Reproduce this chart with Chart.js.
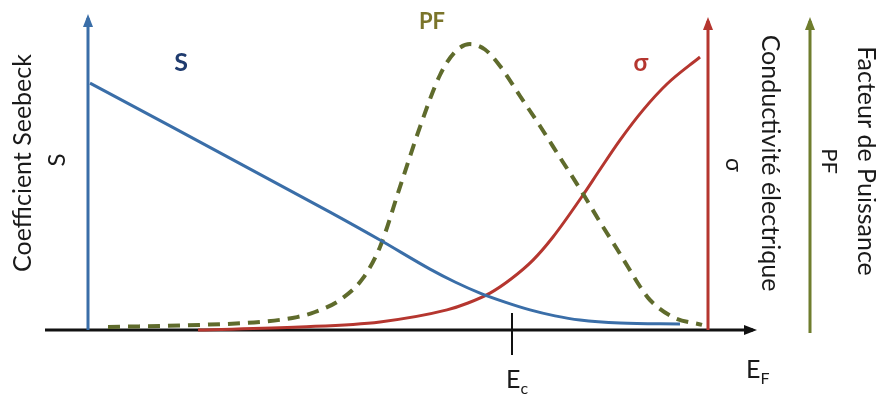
<!DOCTYPE html>
<html>
<head>
<meta charset="utf-8">
<script src="https://cdn.jsdelivr.net/npm/chart.js@4.4.1/dist/chart.umd.min.js"></script>
<style>
  body { margin: 0; background: #fff; }
  #wrap { width: 876px; height: 394px; }
</style>
</head>
<body>
<div id="wrap"><canvas id="chart" width="876" height="394"></canvas></div>
<script>
// data (x = Fermi energy, y = arbitrary units)
const sEnergy = [0.2, 24.2, 29.2, 34.2, 36.7, 39.2, 41.7, 44.2, 46.7, 49.2, 53.2, 59.2];
const sValues = [82.3, 39.3, 30, 20.3, 16, 12.3, 9.3, 6.7, 4.7, 3.3, 2.3, 2];

const pfEnergy = [2.0, 11.2, 17.2, 20.9, 22.7, 25.2, 27.5, 29.2, 31.2, 33.2, 35.2, 36.7, 38.2, 39.7,
  41.2, 43.2, 45.2, 47.2, 49.4, 51.2, 52.9, 54.0, 55.2, 56.2, 58.5, 61.4];
const pfValues = [1, 1.7, 2.7, 4.3, 6, 10, 17.3, 27.7, 47.7, 67.7, 85, 92.7, 95.3, 93.5,
  88, 78, 68, 57.5, 46, 36, 27, 21, 14.5, 10, 4.3, 1.7];

const sigmaEnergy = [11.0, 21.2, 29.2, 35.9, 38.0, 40.2, 42.3, 44.5, 46.5, 49.4, 51.2, 53.2, 55.5, 57.9, 61.2];
const sigmaValues = [0, 1, 2.7, 6.7, 9, 12.3, 17, 23.3, 31, 44.5, 53.5, 63.3, 73.3, 82, 91];

const ecEnergy = 42.4;

const blue = "#3a6ea8";
const red = "#b5362f";
const olive = "#5f6b2c";

const toPoints = (xs, ys) => xs.map((x, i) => ({ x: x, y: ys[i] }));

// axes, arrows and labels drawn around the curves
const sketch = {
  id: "sketch",
  beforeDatasetsDraw(chart) {
    const c = chart.ctx;
    const X = (v) => chart.scales.x.getPixelForValue(v);
    const Y = (v) => chart.scales.y.getPixelForValue(v);

    const arrow = (x1, y1, x2, y2, color, w) => {
      c.save();
      c.strokeStyle = color;
      c.fillStyle = color;
      c.lineWidth = w;
      c.beginPath();
      c.moveTo(x1, y1);
      c.lineTo(x2, y2);
      c.stroke();
      const a = Math.atan2(y2 - y1, x2 - x1);
      c.translate(x2, y2);
      c.rotate(a);
      c.beginPath();
      c.moveTo(4, 0);
      c.lineTo(-9, -5);
      c.lineTo(-9, 5);
      c.closePath();
      c.fill();
      c.restore();
    };

    arrow(X(-4.3), Y(0), X(66.5), Y(0), "#111", 3);
    arrow(X(0), Y(0), X(0), Y(104), blue, 3);
    arrow(X(62), Y(0), X(62), Y(103), red, 3);
    arrow(X(72.2), Y(-1), X(72.2), Y(103), "#6f7d2d", 3);

    // E_c tick
    c.save();
    c.strokeStyle = "#111";
    c.lineWidth = 2;
    c.beginPath();
    c.moveTo(X(ecEnergy), Y(5.7));
    c.lineTo(X(ecEnergy), Y(-8.3));
    c.stroke();
    c.restore();
  },
  afterDatasetsDraw(chart) {
    const c = chart.ctx;
    const font = "Lato, 'Open Sans', sans-serif";

    const text = (str, x, y, size, color, rot, bold) => {
      c.save();
      c.translate(x, y);
      c.rotate(rot);
      c.font = (bold ? "bold " : "") + size + "px " + font;
      c.fillStyle = color;
      c.textAlign = "center";
      c.textBaseline = "middle";
      c.fillText(str, 0, 0);
      c.restore();
    };

    const up = -Math.PI / 2;
    const down = Math.PI / 2;
    text("Coefficient Seebeck", 23, 163, 25, "#1a1a1a", up);
    text("S", 57, 160, 24, "#1a1a1a", up);
    text("Conductivité électrique", 770, 163, 25, "#1a1a1a", down);
    text("σ", 733, 165, 23, "#1a1a1a", down);
    text("PF", 829, 161, 22, "#1a1a1a", down);
    text("Facteur de Puissance", 866, 161, 25, "#1a1a1a", down);

    text("S", 181, 63, 25, "#1f3b6e", 0, true);
    text("PF", 432, 22, 22, "#7a742a", 0, true);
    text("σ", 641, 63, 24, red, 0, true);

    // E_c and E_F
    const sub = (main, s, x, y) => {
      c.save();
      c.fillStyle = "#1a1a1a";
      c.textBaseline = "alphabetic";
      c.font = "25px " + font;
      c.fillText(main, x, y);
      const w = c.measureText(main).width;
      c.font = "16px " + font;
      c.fillText(s, x + w, y + 6);
      c.restore();
    };
    sub("E", "c", 506, 388);
    sub("E", "F", 746, 378);
  }
};

const data = {
  datasets: [
    {
      label: "S",
      data: toPoints(sEnergy, sValues),
      borderColor: blue,
      borderWidth: 3,
    },
    {
      label: "PF",
      data: toPoints(pfEnergy, pfValues),
      borderColor: olive,
      borderWidth: 4,
      borderDash: [12, 8],
    },
    {
      label: "σ",
      data: toPoints(sigmaEnergy, sigmaValues),
      borderColor: red,
      borderWidth: 3,
    },
  ],
};

const config = {
  type: "line",
  data: data,
  options: {
    responsive: false,
    animation: false,
    devicePixelRatio: 1,
    layout: { padding: 0 },
    elements: {
      point: { radius: 0 },
      line: { cubicInterpolationMode: "monotone", fill: false },
    },
    plugins: { legend: { display: false }, tooltip: { enabled: false } },
    scales: {
      x: { type: "linear", min: -8.8, max: 78.8, display: false },
      y: { type: "linear", min: 110 - 394 / 3, max: 110, display: false },
    },
  },
  plugins: [sketch],
};

new Chart(document.getElementById("chart"), config);
</script>
</body>
</html>
